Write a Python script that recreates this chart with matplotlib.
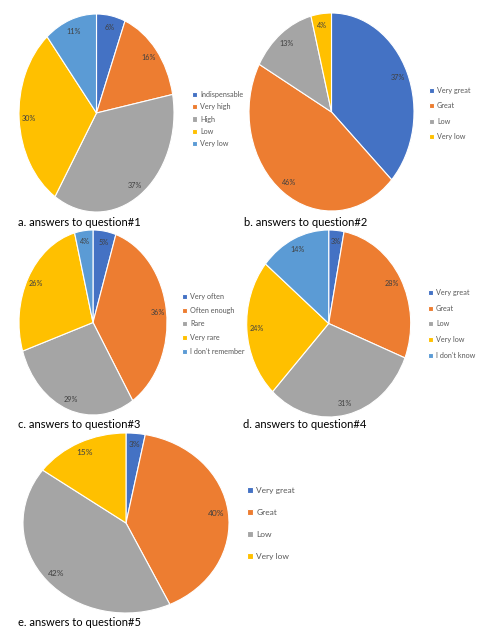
import matplotlib
matplotlib.use("Agg")
import matplotlib.pyplot as plt

# ---------------------------------------------------------------------
# Data
# ---------------------------------------------------------------------

q1_labels = ["Indispensable", "Very high", "High", "Low", "Very low"]
q1_pct = [6, 16, 37, 30, 11]

q2_labels = ["Very great", "Great", "Low", "Very low"]
q2_pct = [37, 46, 13, 4]

q3_labels = ["Very often", "Often enough", "Rare", "Very rare", "I don't remember"]
q3_pct = [5, 36, 29, 26, 4]

q4_labels = ["Very great", "Great", "Low", "Very low", "I don't know"]
q4_pct = [3, 28, 31, 24, 14]

q5_labels = ["Very great", "Great", "Low", "Very low"]
q5_pct = [3, 40, 42, 15]

captions = ["a. answers to question#1", "b. answers to question#2",
            "c. answers to question#3", "d. answers to question#4",
            "e. answers to question#5"]

colors = ["#4472C4", "#ED7D31", "#A5A5A5", "#FFC000", "#5B9BD5"]

W, H = 488, 630
FONT = "Lato"


def px_box(cx, cy, rx, ry):
    return [(cx - rx) / W, 1 - (cy + ry) / H, 2 * rx / W, 2 * ry / H]


def draw_pie(fig, values, labels, ellipse, legend_xy, spacing, fs_leg, fs_pct):
    ax = fig.add_axes(px_box(*ellipse))
    wedges, _, autotexts = ax.pie(
        values, colors=colors[:len(values)], startangle=90, counterclock=False,
        autopct=lambda p: f"{p:.0f}%", pctdistance=0.88,
        wedgeprops=dict(edgecolor="white", linewidth=0.8),
        textprops=dict(color="#404040", fontsize=fs_pct, family=FONT),
    )
    ax.set_aspect("auto")
    ax.set_xlim(-1, 1)
    ax.set_ylim(-1, 1)
    for w in wedges:
        w.set_clip_on(False)
    lx, ly = legend_xy
    fig.legend(wedges, labels, loc="upper left",
               bbox_to_anchor=(lx / W, 1 - ly / H), frameon=False,
               prop=dict(family=FONT, size=fs_leg), labelcolor="#595959",
               handlelength=0.7, handleheight=0.7, handletextpad=0.4,
               labelspacing=spacing, borderpad=0, borderaxespad=0)
    return ax


fig = plt.figure(figsize=(W / 100, H / 100), dpi=100)

draw_pie(fig, q1_pct, q1_labels, (96.5, 113, 77.5, 99), (192, 91), 0.73, 5.2, 5.2)
draw_pie(fig, q2_pct, q2_labels, (331.5, 112, 82.5, 99), (429, 87), 1.17, 5.2, 5.2)
draw_pie(fig, q3_pct, q3_labels, (93, 322.5, 74, 92.5), (182, 293), 0.92, 5.2, 5.2)
draw_pie(fig, q4_pct, q4_labels, (328.7, 323.5, 82, 93.5), (428, 289), 1.2, 5.2, 5.2)
draw_pie(fig, q5_pct, q5_labels, (126, 523, 103, 90), (247, 487), 1.78, 6.0, 6.0)

cap_pos = [(18, 222), (244, 222), (18, 425), (243, 425), (18, 623)]
for (x, y), cap in zip(cap_pos, captions):
    fig.text(x / W, 1 - y / H, cap, ha="left", va="center",
             fontsize=8, family=FONT, color="black")

fig.savefig("out.png", dpi=100, facecolor="white")
